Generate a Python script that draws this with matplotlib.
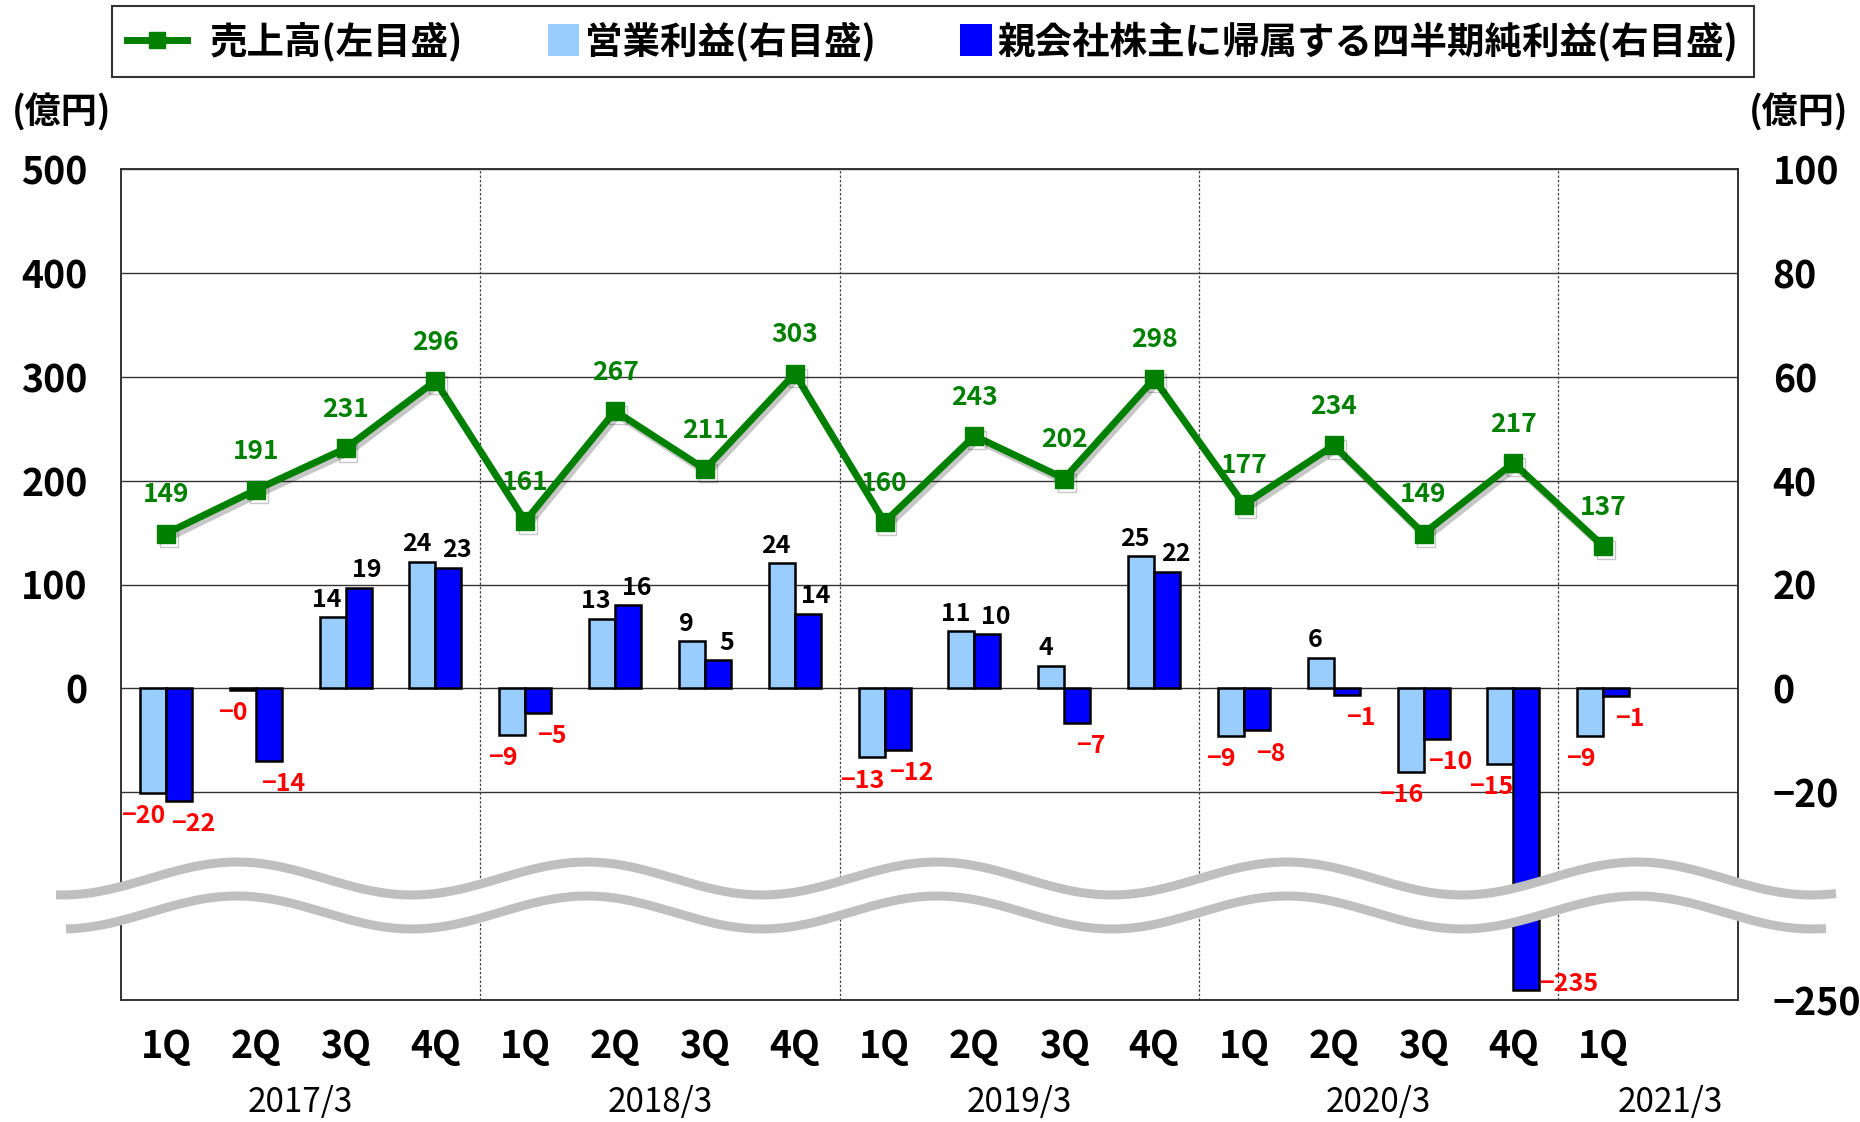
import numpy as np
import matplotlib
matplotlib.use("Agg")
import matplotlib.pyplot as plt
import matplotlib.patheffects as pe
import matplotlib.transforms as mtransforms
from matplotlib.lines import Line2D
from matplotlib.patches import Polygon, Patch, Rectangle
from matplotlib.legend_handler import HandlerBase

plt.rcParams['font.family'] = ['Noto Sans CJK JP', 'DejaVu Sans']

# --- data (億円) ---
quarters = ["1Q", "2Q", "3Q", "4Q"] * 4 + ["1Q"]
years = ["2017/3", "2018/3", "2019/3", "2020/3", "2021/3"]
sales = [149, 191, 231, 296, 161, 267, 211, 303, 160, 243, 202, 298,
         177, 234, 149, 217, 137]
op_profit = [-20.1, -0.3, 13.7, 24.4, -8.9, 13.4, 9.1, 24.1, -13.3, 11.0,
             4.3, 25.4, -9.1, 5.9, -16.1, -14.6, -9.1]
net_profit = [-21.7, -13.9, 19.4, 23.2, -4.8, 16.0, 5.4, 14.4, -11.9, 10.4,
              -6.7, 22.4, -8.1, -1.3, -9.7, -235.4, -1.4]
left_ticks = [0, 100, 200, 300, 400, 500]
right_ticks = [100, 80, 60, 40, 20, 0, -20, -250]

GREEN = "#008000"
LIGHT = "#99CCFF"
BLUE = "#0000FF"
W, H = 1860, 1122
BREAK = -30  # right axis is linear above this, compressed below


def fmt(v):
    return f"{v:.0f}".replace("-", "\u2212")


def fwd(v):
    v = np.asarray(v, dtype=float)
    return np.where(v >= BREAK, v, BREAK + (v - BREAK) * (60 + BREAK) / (250 + BREAK))


def inv(u):
    u = np.asarray(u, dtype=float)
    return np.where(u >= BREAK, u, BREAK + (u - BREAK) * (250 + BREAK) / (60 + BREAK))


class SquareHandler(HandlerBase):
    def create_artists(self, legend, orig_handle, xdescent, ydescent,
                       width, height, fontsize, trans):
        s = fontsize * 0.85
        r = Rectangle((width - xdescent - s, -ydescent + (height - s) / 2), s, s,
                      facecolor=orig_handle.get_facecolor(), edgecolor='none',
                      transform=trans)
        return [r]


class LineHandler(HandlerBase):
    def create_artists(self, legend, orig_handle, xdescent, ydescent,
                       width, height, fontsize, trans):
        y = -ydescent + height / 2
        end = width - xdescent - fontsize * 0.45
        ln = Line2D([-xdescent, end], [y, y], color=orig_handle.get_color(),
                    linewidth=orig_handle.get_linewidth(), transform=trans)
        mk = Line2D([(end - xdescent) / 2], [y], color=orig_handle.get_color(),
                    marker='s', markersize=orig_handle.get_markersize(),
                    linestyle='none', transform=trans)
        return [ln, mk]


fig = plt.figure(figsize=(W / 100, H / 100), dpi=100)
ax = fig.add_axes([121 / W, 1 - 1000 / H, (1738 - 121) / W, (1000 - 169) / H])
ax2 = ax.twinx()
ax.set_zorder(2)
ax2.set_zorder(1)
ax.patch.set_visible(False)

x = np.arange(len(quarters))
bw = 0.29

# bars on right axis
ax2.set_yscale('function', functions=(fwd, inv))
ax2.set_ylim(-250, 100)
ax2.bar(x - bw / 2, op_profit, bw, color=LIGHT, edgecolor='k', linewidth=1.8, zorder=2)
ax2.bar(x + bw / 2, net_profit, bw, color=BLUE, edgecolor='k', linewidth=1.8, zorder=2)
ax2.set_axisbelow(True)
ax2.yaxis.grid(True, color='#333333', linewidth=1.0)
for sep in [3.5, 7.5, 11.5, 15.5]:
    ax2.axvline(sep, color='#444444', linewidth=0.9, linestyle=(0, (2, 1.5)), zorder=0.6)

for vals, dx in [(op_profit, -bw / 2), (net_profit, bw / 2)]:
    off = -7 if dx < 0 else 10
    for i, v in enumerate(vals):
        if v < BREAK:
            ax2.annotate(fmt(v), (x[i] + dx + bw / 2, v), xytext=(0, 4),
                         textcoords='offset points', ha='left', va='center',
                         color='red', fontsize=18, fontweight='bold')
        elif v >= 0:
            ax2.annotate(fmt(v), (x[i] + dx, v), xytext=(off * 0.6, 4),
                         textcoords='offset points', ha='center', va='bottom',
                         color='k', fontsize=18, fontweight='bold')
        else:
            ax2.annotate(fmt(v), (x[i] + dx, v), xytext=(off, -8),
                         textcoords='offset points', ha='center', va='top',
                         color='red', fontsize=18, fontweight='bold')

ax2.set_yticks(right_ticks)
ax2.set_yticklabels([fmt(t) for t in right_ticks], fontsize=27, fontweight='bold')
ax2.tick_params(axis='y', length=0, pad=25)

# sales line on left axis
ax.plot(x, sales, color=GREEN, linewidth=5, marker='s', markersize=13,
        path_effects=[pe.SimpleLineShadow(offset=(2, -3), shadow_color='k', alpha=0.22),
                      pe.Normal()], zorder=3)
for i, v in enumerate(sales):
    ax.annotate(fmt(v), (x[i], v), xytext=(0, 28), textcoords='offset points',
                ha='center', va='center', color=GREEN, fontsize=19, fontweight='bold')

ax.set_xlim(-0.5, 17.5)
ax.set_ylim(-300, 500)
ax.set_yticks(left_ticks)
ax.set_yticklabels([fmt(t) for t in left_ticks], fontsize=27, fontweight='bold')
ax.tick_params(axis='y', length=0, pad=24)
ax.set_xticks([])
for a in (ax, ax2):
    for s in a.spines.values():
        s.set_color('#333333')
        s.set_linewidth(1.2)

# category labels
tr = mtransforms.blended_transform_factory(ax.transData, fig.transFigure)
for i, q in enumerate(quarters):
    ax.text(x[i], 1 - 1047 / H, q, transform=tr, ha='center', va='center',
            fontsize=27, fontweight='bold')
year_pos = [1.5, 5.5, 9.5, 13.5, 16.75]
for p, y in zip(year_pos, years):
    ax.text(p, 1 - 1103 / H, y, transform=tr, ha='center', va='center', fontsize=24)

fig.text(12 / W, 1 - 113 / H, "(億円)", ha='left', va='center', fontsize=26, fontweight='bold')
fig.text(1848 / W, 1 - 113 / H, "(億円)", ha='right', va='center', fontsize=26, fontweight='bold')

# axis break band
xs_top = np.linspace(56, 1836, 400)
xs_bot = np.linspace(66, 1826, 400)


def wave(xx):
    return 878.5 - 16.5 * np.cos(2 * np.pi * (xx - 237) / 350)


top_y = wave(xs_top)
bot_y = wave(xs_bot) + 34
poly = np.vstack([np.column_stack([xs_top, top_y]),
                  np.column_stack([xs_bot[::-1], bot_y[::-1]])])
poly[:, 0] /= W
poly[:, 1] = 1 - poly[:, 1] / H
fig.add_artist(Polygon(poly, closed=True, facecolor='white', edgecolor='none',
                       transform=fig.transFigure, zorder=5))
for xs, ys in [(xs_top, top_y), (xs_bot, bot_y)]:
    fig.add_artist(Line2D(xs / W, 1 - ys / H, color='#BFBFBF', linewidth=6.5,
                          solid_capstyle='butt', transform=fig.transFigure, zorder=6))

# legend
handles = [
    Line2D([], [], color=GREEN, linewidth=5, marker='s', markersize=12),
    Patch(facecolor=LIGHT),
    Patch(facecolor=BLUE),
]
labels = ["売上高(左目盛)", "営業利益(右目盛)", "親会社株主に帰属する四半期純利益(右目盛)"]
leg = fig.legend(handles, labels, loc='center', bbox_to_anchor=(933 / W, 1 - 41.5 / H),
                 ncol=3, frameon=True, fancybox=False, edgecolor='k',
                 prop={'weight': 'bold', 'size': 27}, columnspacing=1.05,
                 handletextpad=0.15, handlelength=2.05, borderpad=0.42,
                 handler_map={Line2D: LineHandler(), Patch: SquareHandler()})
leg.get_frame().set_linewidth(1.5)

fig.savefig("out.png", dpi=100)
